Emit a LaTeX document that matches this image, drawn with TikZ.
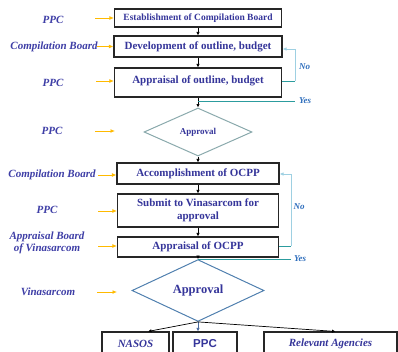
\documentclass[tikz,border=0pt]{standalone}
\usepackage{fontspec}
\setmainfont{Liberation Serif}
\newfontfamily\sansbold{Liberation Sans}
\usetikzlibrary{arrows.meta, shapes.geometric}
\definecolor{textblue}{HTML}{35359A}
\definecolor{rolecolor}{HTML}{3E3EA6}
\definecolor{boxline}{HTML}{262626}
\definecolor{dutyline}{HTML}{FFBA00}
\definecolor{choicegrey}{HTML}{8AA9AC}
\definecolor{choiceblue}{HTML}{4F7FAE}
\definecolor{loopblue}{HTML}{9ED0E2}
\definecolor{turnteal}{HTML}{2C9C9E}
\definecolor{answerblue}{HTML}{2F6EBC}
\definecolor{ppcflow}{HTML}{4A6A9E}
\tikzset{
  stepbox/.style={
    rectangle,
    draw=boxline,
    line width=1.1pt,
    fill=white,
    text=textblue,
    align=center,
    inner sep=1pt,
    font=\fontsize{11}{12.5}\selectfont\bfseries
  },
  outbox/.style={
    stepbox,
    minimum height=24pt,
    font=\fontsize{11}{12.5}\selectfont\bfseries\itshape
  },
  choice/.style={
    diamond,
    draw=choicegrey,
    line width=1pt,
    text=textblue,
    inner sep=0pt
  },
  role/.style={
    text=rolecolor,
    align=center,
    inner sep=1pt,
    font=\fontsize{11}{12}\selectfont\bfseries\itshape
  },
  duty/.style={
    -{Latex[length=4.5pt, width=4pt]},
    draw=dutyline,
    line width=1pt
  },
  flow/.style={
    -{Latex[length=3.5pt, width=3.5pt]},
    draw=black,
    line width=0.7pt
  },
  backline/.style={
    draw=loopblue,
    line width=1pt
  },
  backflow/.style={
    backline,
    -{Latex[length=4pt, width=3.5pt]}
  },
  turnline/.style={
    draw=turnteal,
    line width=1pt
  },
  answer/.style={
    text=answerblue,
    inner sep=0pt,
    font=\fontsize{9}{10}\selectfont\bfseries\itshape
  }
}

\begin{document}
\begin{tikzpicture}[x=1pt, y=-1pt]
\useasboundingbox (0,0) rectangle (398,351);

% Process steps.
\node[stepbox, minimum width=167pt, minimum height=18pt, font=\fontsize{9.5}{11}\selectfont\bfseries] (establish) at (198,18) {Establishment of Compilation Board};
\node[stepbox, minimum width=168pt, minimum height=21pt] (develop) at (198,46.5) {Development of outline, budget};
\node[stepbox, minimum width=167pt, minimum height=29pt, text depth=6pt] (appraise) at (198,82.5) {Appraisal of outline, budget};
\node[choice, minimum width=108pt, minimum height=48pt, font=\fontsize{9}{10}\selectfont\bfseries] (approveA) at (198,132) {Approval};
\node[stepbox, minimum width=162pt, minimum height=21pt] (accomplish) at (198,173.5) {Accomplishment of OCPP};
\node[stepbox, minimum width=161pt, minimum height=33pt] (submit) at (198,210.5) {Submit to Vinasarcom for\\approval};
\node[stepbox, minimum width=161pt, minimum height=20pt] (appraiseB) at (198,247) {Appraisal of OCPP};
\node[choice, draw=choiceblue, minimum width=132pt, minimum height=47pt, font=\fontsize{12.5}{14}\selectfont\bfseries] (approveB) at (198,290.5) {Approval};

% Receivers.
\node[outbox, minimum width=67pt] (nasos) at (135.5,344) {NASOS};
\node[outbox, minimum width=64pt, font=\fontsize{11.5}{13}\selectfont\sansbold\bfseries] (ppc) at (205,344) {PPC};
\node[outbox, minimum width=133pt] (agencies) at (330.5,344) {Relevant Agencies};

% Responsible bodies.
\node[role] (roleA) at (53,20) {PPC};
\node[role] (roleB) at (54,47) {Compilation Board};
\node[role] (roleC) at (53,83) {PPC};
\node[role] (roleD) at (52,131) {PPC};
\node[role] (roleE) at (52,175) {Compilation Board};
\node[role] (roleF) at (47,210) {PPC};
\node[role] (roleG) at (47,243) {Appraisal Board\\of Vinasarcom};
\node[role] (roleH) at (48,292) {Vinasarcom};

\coordinate (tailA) at (95,18);
\coordinate (tailB) at (97,46.5);
\coordinate (tailC) at (96,81);
\coordinate (tailD) at (95,131);
\coordinate (headD) at (115,131);
\coordinate (tailE) at (98,175);
\coordinate (tailF) at (98,211);
\coordinate (tailG) at (98,246);
\coordinate (tailH) at (97,292);
\coordinate (headH) at (117,292);

\draw[duty] (tailA) -- (tailA -| establish.west);
\draw[duty] (tailB) -- (tailB -| develop.west);
\draw[duty] (tailC) -- (tailC -| appraise.west);
\draw[duty] (tailD) -- (headD);
\draw[duty] (tailE) -- (tailE -| accomplish.west);
\draw[duty] (tailF) -- (tailF -| submit.west);
\draw[duty] (tailG) -- (tailG -| appraiseB.west);
\draw[duty] (tailH) -- (headH);

% Main flow.
\draw[flow] (establish) -- (develop);
\draw[flow] (develop) -- (appraise);
\draw[flow] (appraise) -- (approveA);
\draw[flow] (approveA) -- (accomplish);
\draw[flow] (accomplish) -- (submit);
\draw[flow] (submit) -- (appraiseB);
\draw[flow] (appraiseB) -- (approveB);

\draw[flow] (approveB.south) -- ([xshift=12.5pt]nasos.north);
\draw[flow, draw=ppcflow] (approveB.south) -- (approveB.south |- ppc.north);
\draw[flow] (approveB.south) -- ([xshift=5pt]agencies.north);

% Loops back on "No".
\coordinate (turnA) at (295,81);
\coordinate (noA) at (295,49);
\draw[turnline] (turnA -| appraise.east) -- (turnA);
\draw[backflow] (turnA) -- (noA) -- (noA -| develop.east);
\node[answer] (noLabelA) at (304.5,67) {No};

\coordinate (yesA) at (295,101);
\draw[turnline] (yesA -| appraise.south) -- (yesA);
\node[answer, anchor=west] (yesLabelA) at (299,101) {Yes};

\coordinate (turnB) at (291,246);
\coordinate (noB) at (291,174);
\draw[turnline] (turnB -| appraiseB.east) -- (turnB);
\draw[backflow] (turnB) -- (noB) -- (noB -| accomplish.east);
\node[answer] (noLabelB) at (299,207) {No};

\coordinate (yesB) at (291,259);
\draw[turnline] (yesB -| appraiseB.south) -- (yesB);
\node[answer, anchor=west] (yesLabelB) at (294,259) {Yes};

\end{tikzpicture}
\end{document}
